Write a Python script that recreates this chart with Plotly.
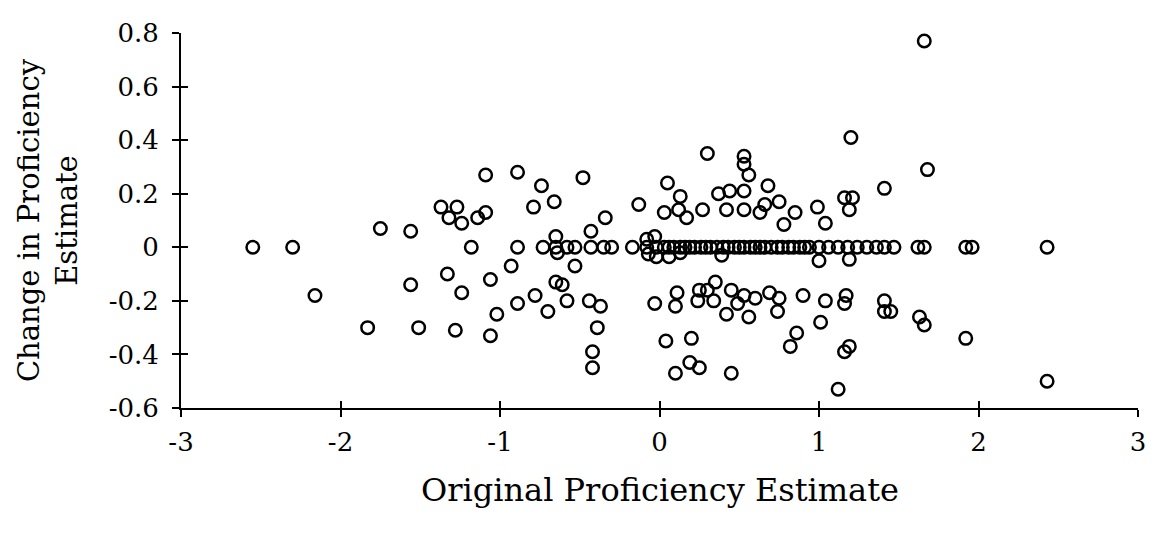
import plotly.graph_objects as go

x_orig = [
    -2.55, -2.30, -2.16, -1.83, -1.75, -1.56, -1.56, -1.51, -1.37, -1.33,
    -1.32, -1.28, -1.27, -1.24, -1.24, -1.18, -1.14, -1.09, -1.09, -1.06,
    -1.06, -1.02, -0.93, -0.89, -0.89, -0.89, -0.79, -0.78, -0.74, -0.73,
    -0.70, -0.66, -0.65, -0.65, -0.64, -0.65, -0.61, -0.58, -0.58, -0.53,
    -0.53, -0.48, -0.43, -0.43, -0.44, -0.42, -0.42, -0.39, -0.37, -0.35,
    -0.34, -0.30, -0.17, -0.13, -0.08, -0.08, -0.07, -0.03, -0.03, -0.02,
    -0.02, 0.03, 0.04, 0.05, 0.06, 0.06, 0.10, 0.10, 0.11, 0.12,
    0.13, 0.13, 0.13, 0.17, 0.19, 0.20, 0.19, 0.24, 0.25, 0.25,
    0.26, 0.27, 0.30, 0.30, 0.32, 0.34, 0.35, 0.37, 0.39, 0.40,
    0.42, 0.42, 0.44, 0.45, 0.45, 0.47, 0.49, 0.53, 0.53, 0.53,
    0.53, 0.53, 0.53, 0.56, 0.56, 0.60, 0.60, 0.63, 0.66, 0.66,
    0.68, 0.69, 0.74, 0.74, 0.75, 0.75, 0.78, 0.81, 0.82, 0.85,
    0.86, 0.88, 0.90, 0.94, 0.99, 1.00, 1.00, 1.01, 1.04, 1.04,
    1.06, 1.12, 1.12, 1.16, 1.16, 1.16, 1.17, 1.18, 1.19, 1.19,
    1.19, 1.20, 1.21, 1.24, 1.30, 1.36, 1.41, 1.41, 1.41, 1.41,
    1.45, 1.47, 1.62, 1.63, 1.66, 1.66, 1.66, 1.68, 1.92, 1.92,
    1.96, 2.43, 2.43,
    0.03, 0.09, 0.16, 0.22, 0.29, 0.36, 0.43, 0.50, 0.57, 0.63,
    0.70, 0.77, 0.84, 0.91,
]
y_change = [
    0.00, 0.00, -0.18, -0.30, 0.07, 0.06, -0.14, -0.30, 0.15, -0.10,
    0.11, -0.31, 0.15, 0.09, -0.17, 0.00, 0.11, 0.27, 0.13, -0.12,
    -0.33, -0.25, -0.07, 0.28, 0.00, -0.21, 0.15, -0.18, 0.23, 0.00,
    -0.24, 0.17, 0.04, 0.00, -0.02, -0.13, -0.14, 0.00, -0.20, 0.00,
    -0.07, 0.26, 0.06, 0.00, -0.20, -0.39, -0.45, -0.30, -0.22, 0.00,
    0.11, 0.00, 0.00, 0.16, 0.03, 0.00, -0.025, 0.04, -0.21, 0.00,
    -0.035, 0.13, -0.35, 0.24, 0.00, -0.035, -0.22, -0.47, -0.17, 0.14,
    0.19, 0.00, -0.02, 0.11, -0.43, -0.34, 0.00, -0.20, -0.16, -0.45,
    0.00, 0.14, 0.35, -0.16, 0.00, -0.20, -0.13, 0.20, -0.03, 0.00,
    0.14, -0.25, 0.21, -0.16, -0.47, 0.00, -0.21, 0.34, 0.31, 0.21,
    0.14, 0.00, -0.18, 0.27, -0.26, 0.00, -0.19, 0.13, 0.16, 0.00,
    0.23, -0.17, 0.00, -0.24, 0.17, -0.19, 0.085, 0.00, -0.37, 0.13,
    -0.32, 0.00, -0.18, 0.00, 0.15, 0.00, -0.05, -0.28, 0.09, -0.20,
    0.00, 0.00, -0.53, 0.185, -0.21, -0.39, -0.18, 0.00, 0.14, -0.045,
    -0.37, 0.41, 0.185, 0.00, 0.00, 0.00, 0.22, 0.00, -0.20, -0.24,
    -0.24, 0.00, 0.00, -0.26, 0.77, 0.00, -0.29, 0.29, 0.00, -0.34,
    0.00, 0.00, -0.50,
    0.00, 0.00, 0.00, 0.00, 0.00, 0.00, 0.00, 0.00, 0.00, 0.00,
    0.00, 0.00, 0.00, 0.00,
]

x_ticks = [-3, -2, -1, 0, 1, 2, 3]
x_tick_labels = ["-3", "-2", "-1", "0", "1", "2", "3"]
y_ticks = [-0.6, -0.4, -0.2, 0, 0.2, 0.4, 0.6, 0.8]
y_tick_labels = ["-0.6", "-0.4", "-0.2", "0", "0.2", "0.4", "0.6", "0.8"]
x_title = "Original Proficiency Estimate"
y_title = "Change in Proficiency<br>Estimate"

FONT = "DejaVu Serif"

fig = go.Figure()
fig.add_trace(go.Scatter(
    x=x_orig, y=y_change, mode="markers",
    marker=dict(symbol="circle-open", size=12.5, color="black",
                line=dict(width=2.5, color="black")),
    showlegend=False, cliponaxis=False, hoverinfo="x+y",
))
# empty trace so the overlay axes (inner half of the cross ticks) are drawn
fig.add_trace(go.Scatter(x=[], y=[], xaxis="x2", yaxis="y2", showlegend=False))

common = dict(showgrid=False, zeroline=False, showline=True, linecolor="black",
              linewidth=2, ticks="outside", ticklen=7, tickwidth=2,
              tickcolor="black", tickfont=dict(family=FONT, size=26, color="black"))
inner = dict(showgrid=False, zeroline=False, showline=False, ticks="inside",
             ticklen=7, tickwidth=2, tickcolor="black", showticklabels=False)

fig.update_layout(
    width=1148, height=527,
    margin=dict(l=173, r=10, t=24, b=127),
    paper_bgcolor="white", plot_bgcolor="white",
    xaxis=dict(range=[-3, 3], tickvals=x_ticks, ticktext=x_tick_labels,
               ticklabelstandoff=3, **common),
    yaxis=dict(range=[-0.6, 0.8], tickvals=y_ticks, ticktext=y_tick_labels,
               ticklabelstandoff=8, **common),
    xaxis2=dict(overlaying="x", anchor="y2", side="bottom", range=[-3, 3],
                tickvals=x_ticks, **inner),
    yaxis2=dict(overlaying="y", anchor="x2", side="left", range=[-0.6, 0.8],
                tickvals=y_ticks, **inner),
    annotations=[
        dict(text=x_title, xref="paper", yref="paper", x=0.5, y=-0.218,
             xanchor="center", yanchor="middle", showarrow=False,
             font=dict(family=FONT, size=32, color="black")),
        dict(text=y_title, xref="paper", yref="paper", x=-0.1394, y=0.5,
             xanchor="center", yanchor="middle", showarrow=False, textangle=-90,
             font=dict(family=FONT, size=29, color="black")),
    ],
)

fig.write_html("out.html")
